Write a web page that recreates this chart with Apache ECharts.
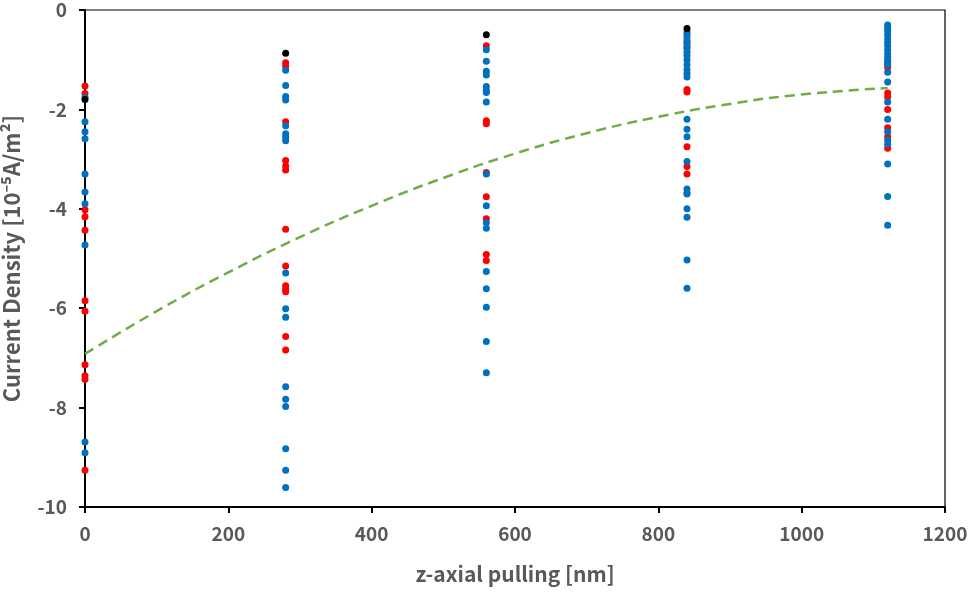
<!DOCTYPE html>
<html>
<head>
<meta charset="utf-8">
<script src="https://cdn.jsdelivr.net/npm/echarts@6/dist/echarts.min.js"></script>
<style>
  html, body { margin: 0; padding: 0; background: #fff; }
  #chart { width: 971px; height: 593px; }
</style>
</head>
<body>
<div id="chart"></div>
<script>
// pulling positions (nm)
var pulls = [0, 280, 560, 840, 1120];

// current density readings per pulling position (10^-5 A/m^2)
var blueVals = [
  [-1.76, -2.25, -2.45, -2.59, -3.30, -3.66, -3.90, -4.73, -8.69, -8.91],
  [-1.21, -1.52, -1.74, -1.81, -2.33, -2.49, -2.56, -2.63, -5.29, -6.01, -6.18, -7.58, -7.83, -7.98, -8.83, -9.26, -9.61],
  [-0.80, -1.03, -1.23, -1.31, -1.54, -1.62, -1.66, -1.85, -3.30, -3.94, -4.28, -4.39, -5.26, -5.61, -5.98, -6.67, -7.30],
  [-0.45, -0.55, -0.62, -0.70, -0.78, -0.85, -0.92, -1.00, -1.10, -1.20, -1.28, -1.35, -2.20, -2.40, -2.55, -3.05, -3.60, -3.70, -4.00, -4.17, -5.03, -5.60],
  [-0.30, -0.35, -0.42, -0.50, -0.58, -0.65, -0.72, -0.80, -0.88, -0.95, -1.02, -1.10, -1.25, -1.45, -1.85, -2.20, -2.45, -2.62, -2.70, -3.10, -3.75, -4.33]
];
var redVals = [
  [-1.53, -1.68, -4.02, -4.16, -4.43, -5.85, -6.06, -7.14, -7.36, -7.43, -9.26],
  [-1.06, -1.13, -2.25, -3.03, -3.14, -3.22, -4.41, -5.15, -5.55, -5.62, -5.67, -6.57, -6.84],
  [-0.72, -2.23, -2.29, -3.27, -3.76, -4.20, -4.92, -5.04],
  [-0.50, -0.65, -0.75, -1.60, -1.65, -2.75, -3.15, -3.30, -3.68],
  [-1.05, -1.15, -1.67, -1.75, -2.00, -2.37, -2.55, -2.78]
];
var blackVals = [-1.80, -0.87, -0.50, -0.37, null];

// dashed trend curve
var trendX = [0, 100, 200, 300, 400, 500, 600, 700, 800, 900, 1000, 1120];
var trendY = [-6.92, -6.06, -5.28, -4.57, -3.94, -3.38, -2.89, -2.48, -2.15, -1.89, -1.70, -1.57];

function toPoints(vals) {
  var out = [];
  for (var i = 0; i < pulls.length; i++) {
    var v = vals[i];
    if (v === null) continue;
    if (Array.isArray(v)) {
      for (var j = 0; j < v.length; j++) out.push([pulls[i], v[j]]);
    } else {
      out.push([pulls[i], v]);
    }
  }
  return out;
}

var trend = trendX.map(function (x, i) { return [x, trendY[i]]; });

var gray = '#595959';
var font = '"Noto Sans CJK KR", "Noto Sans", sans-serif';

var chart = echarts.init(document.getElementById('chart'));

var option = {
  animation: false,
  grid: {
    left: 85, right: 26, top: 10, bottom: 86,
    outerBoundsMode: 'none',
    containLabel: false,
    show: true,
    borderColor: '#000',
    borderWidth: 1.2
  },
  xAxis: {
    type: 'value',
    min: 0, max: 1200, interval: 200,
    name: 'z-axial pulling [nm]',
    nameLocation: 'middle',
    nameGap: 57,
    nameTextStyle: { color: gray, fontSize: 21, fontWeight: 'bold', fontFamily: font },
    axisLine: { onZero: false, lineStyle: { color: '#000', width: 2 } },
    axisTick: { show: true, inside: false, length: 6, lineStyle: { color: '#000', width: 2 } },
    axisLabel: {
      color: gray, fontSize: 19, fontWeight: 'bold', fontFamily: font, margin: 17,
      formatter: function (v) { return String(v); }
    },
    splitLine: { show: false }
  },
  yAxis: {
    type: 'value',
    min: -10, max: 0, interval: 2,
    name: 'Current Density [10\u207B\u2075A/m\u00B2]',
    nameLocation: 'middle',
    nameGap: 62,
    nameRotate: 90,
    nameTextStyle: { color: gray, fontSize: 22, fontWeight: 'bold', fontFamily: font },
    axisLine: { show: true, onZero: false, lineStyle: { color: '#000', width: 2 } },
    axisTick: { show: true, inside: false, length: 6, lineStyle: { color: '#000', width: 2 } },
    axisLabel: { color: gray, fontSize: 19, fontWeight: 'bold', fontFamily: font, margin: 18 },
    splitLine: { show: false }
  },
  series: [
    {
      type: 'scatter',
      data: toPoints(redVals),
      symbolSize: 7,
      itemStyle: { color: '#FF0000', opacity: 1 }
    },
    {
      type: 'scatter',
      data: toPoints(blueVals),
      symbolSize: 7,
      itemStyle: { color: '#0070C0', opacity: 1 }
    },
    {
      type: 'scatter',
      data: toPoints(blackVals),
      symbolSize: 7,
      itemStyle: { color: '#000000', opacity: 1 }
    },
    {
      type: 'line',
      data: trend,
      smooth: true,
      showSymbol: false,
      lineStyle: { color: '#70AD47', width: 2.5, type: [10, 6] }
    }
  ]
};

chart.setOption(option);
</script>
</body>
</html>
